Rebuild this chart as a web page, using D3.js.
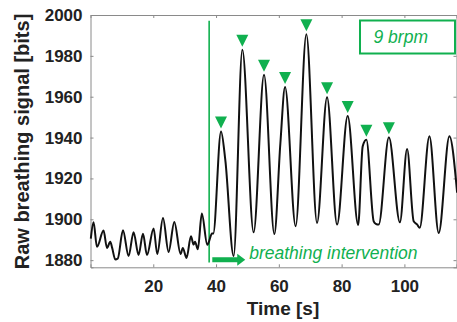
<!DOCTYPE html>
<html>
<head>
<meta charset="utf-8">
<script src="https://cdn.jsdelivr.net/npm/d3@7"></script>
<style>
  html, body { margin: 0; padding: 0; background: #fff; }
  svg { display: block; font-family: "Liberation Sans", Arial, Helvetica, sans-serif; }
</style>
</head>
<body>
<svg id="chart" width="457" height="322"></svg>
<script>
// ---- data ----
const timeS = [0.1, 0.97, 2.06, 4.16, 5.24, 6.3, 6.9, 7.9, 8.7, 10.34, 12.13, 13.72, 15.31, 16.72, 17.99,
  20.1, 21.27, 23.09, 24.88, 26.7, 28.7, 29.4, 30.6, 32.0, 32.85, 33.3, 34.2, 35.46, 37.2, 37.6, 38.7, 39.1,
  41.58, 42.95, 45.6, 48.37, 51.97, 55.28, 58.57, 60.48, 61.98, 65.35, 68.77, 72.17, 75.36, 78.55, 81.93,
  85.27, 86.71, 87.89, 90.22, 90.9, 91.81, 95.06, 98.57, 100.86, 102.96, 104.05, 104.88, 107.97, 110.93,
  114.34, 116.8];
const signalBits = [1890.5, 1898.5, 1886.5, 1894.5, 1886, 1889, 1886, 1880.3, 1880.8, 1894.6, 1882, 1893.6, 1882.5, 1892.9, 1882.5,
  1895.5, 1883, 1900.6, 1884, 1898.7, 1883, 1886, 1881.1, 1891.7, 1887.6, 1889, 1885.3, 1902.8, 1887.5, 1888.5, 1893, 1893,
  1943, 1929, 1882, 1983, 1893.6, 1970.7, 1892.8, 1937, 1964.7, 1896.6, 1990.6, 1898.2, 1959.8, 1897.4, 1950.6,
  1897.2, 1935.7, 1938.9, 1899, 1897.8, 1897.4, 1940.1, 1898.5, 1934.4, 1899, 1897.5, 1895.8, 1940.6, 1893.3,
  1940.6, 1913];
const peakTimes = [41.58, 48.37, 55.28, 61.98, 68.77, 75.36, 81.93, 87.89, 95.06];
const peakBits = [1943, 1983, 1970.7, 1964.7, 1990.6, 1959.8, 1950.6, 1938.9, 1940.1];
const xTicks = [20, 40, 60, 80, 100];
const yTicks = [1880, 1900, 1920, 1940, 1960, 1980, 2000];
const interventionTime = 37.8;
const arrowFrom = 38.8, arrowTo = 49.3;
const rateLabel = "9 brpm";
const interventionLabel = "breathing intervention";
const xLabel = "Time [s]";
const yLabel = "Raw breathing signal [bits]";

// ---- layout ----
const W = 457, H = 322;
const m = { left: 90.5, right: 0.5, top: 15, bottom: 54.7 };
const green = "#10b04f";
const axisGrey = "#8a8a8a";

const svg = d3.select("#chart");
const x = d3.scaleLinear().domain([0, 116.6]).range([m.left, W - m.right]);
const y = d3.scaleLinear().domain([1876.5, 2000]).range([H - m.bottom, m.top]);

// axes box
const gx = svg.append("g").attr("transform", `translate(0,${H - m.bottom})`)
  .call(d3.axisBottom(x).tickValues(xTicks).tickSize(-3).tickPadding(13).tickFormat(d3.format("d")));
const gxTop = svg.append("g").attr("transform", `translate(0,${m.top})`)
  .call(d3.axisTop(x).tickValues(xTicks).tickSize(-3).tickFormat(""));
const gy = svg.append("g").attr("transform", `translate(${m.left},0)`)
  .call(d3.axisLeft(y).tickValues(yTicks).tickSize(-3).tickPadding(8).tickFormat(d3.format("d")));
const gyR = svg.append("g").attr("transform", `translate(${W - m.right},0)`)
  .call(d3.axisRight(y).tickValues(yTicks).tickSize(-3).tickFormat(""));
[gx, gxTop, gy, gyR].forEach(g => {
  g.selectAll(".domain").attr("stroke", axisGrey).attr("stroke-width", 1);
  g.selectAll(".tick line").attr("stroke", axisGrey);
  g.selectAll("text").attr("fill", "#222").attr("font-size", 17).attr("font-weight", "bold")
    .attr("font-family", '"Liberation Sans", Arial, sans-serif');
});

// intervention line
svg.append("line")
  .attr("x1", x(interventionTime)).attr("x2", x(interventionTime))
  .attr("y1", y(1997.2)).attr("y2", y(1878.8))
  .attr("stroke", green).attr("stroke-width", 1.6);

// signal
const pts = timeS.map((t, i) => [t, signalBits[i]]);
svg.append("path").datum(pts)
  .attr("fill", "none").attr("stroke", "#111").attr("stroke-width", 2)
  .attr("stroke-linejoin", "round")
  .attr("d", d3.line().x(d => x(d[0])).y(d => y(d[1])).curve(d3.curveMonotoneX));

// peak markers
svg.append("g").selectAll("path").data(peakTimes.map((t, i) => [t, peakBits[i]])).join("path")
  .attr("fill", green)
  .attr("d", d => {
    const cx = x(d[0]), py = y(d[1]) - 3;
    return `M${cx - 6},${py - 12}L${cx + 6},${py - 12}L${cx},${py}Z`;
  });

// arrow
const ay = y(1880.2);
svg.append("line").attr("x1", x(arrowFrom)).attr("x2", x(arrowTo) - 7)
  .attr("y1", ay).attr("y2", ay).attr("stroke", green).attr("stroke-width", 5);
svg.append("path").attr("fill", green)
  .attr("d", `M${x(arrowTo) - 8},${ay - 6}L${x(arrowTo)},${ay}L${x(arrowTo) - 8},${ay + 6}Z`);
svg.append("text").attr("x", x(arrowTo) + 4).attr("y", ay - 0.5)
  .attr("fill", green).attr("font-size", 17.5).attr("font-style", "italic")
  .text(interventionLabel);

// rate box
svg.append("rect").attr("x", 360).attr("y", 20.5).attr("width", 95).attr("height", 33)
  .attr("fill", "none").attr("stroke", green).attr("stroke-width", 2);
svg.append("text").attr("x", 373.5).attr("y", 42.5).attr("fill", green)
  .attr("font-size", 17.5).attr("font-style", "italic").text(rateLabel);

// axis labels
svg.append("text").attr("x", 283).attr("y", 314.5).attr("text-anchor", "middle")
  .attr("font-size", 19).attr("font-weight", "bold").attr("fill", "#222").text(xLabel);
svg.append("text").attr("transform", `translate(29,141.5) rotate(-90)`).attr("text-anchor", "middle")
  .attr("font-size", 20).attr("font-weight", "bold").attr("fill", "#222").text(yLabel);
</script>
</body>
</html>
